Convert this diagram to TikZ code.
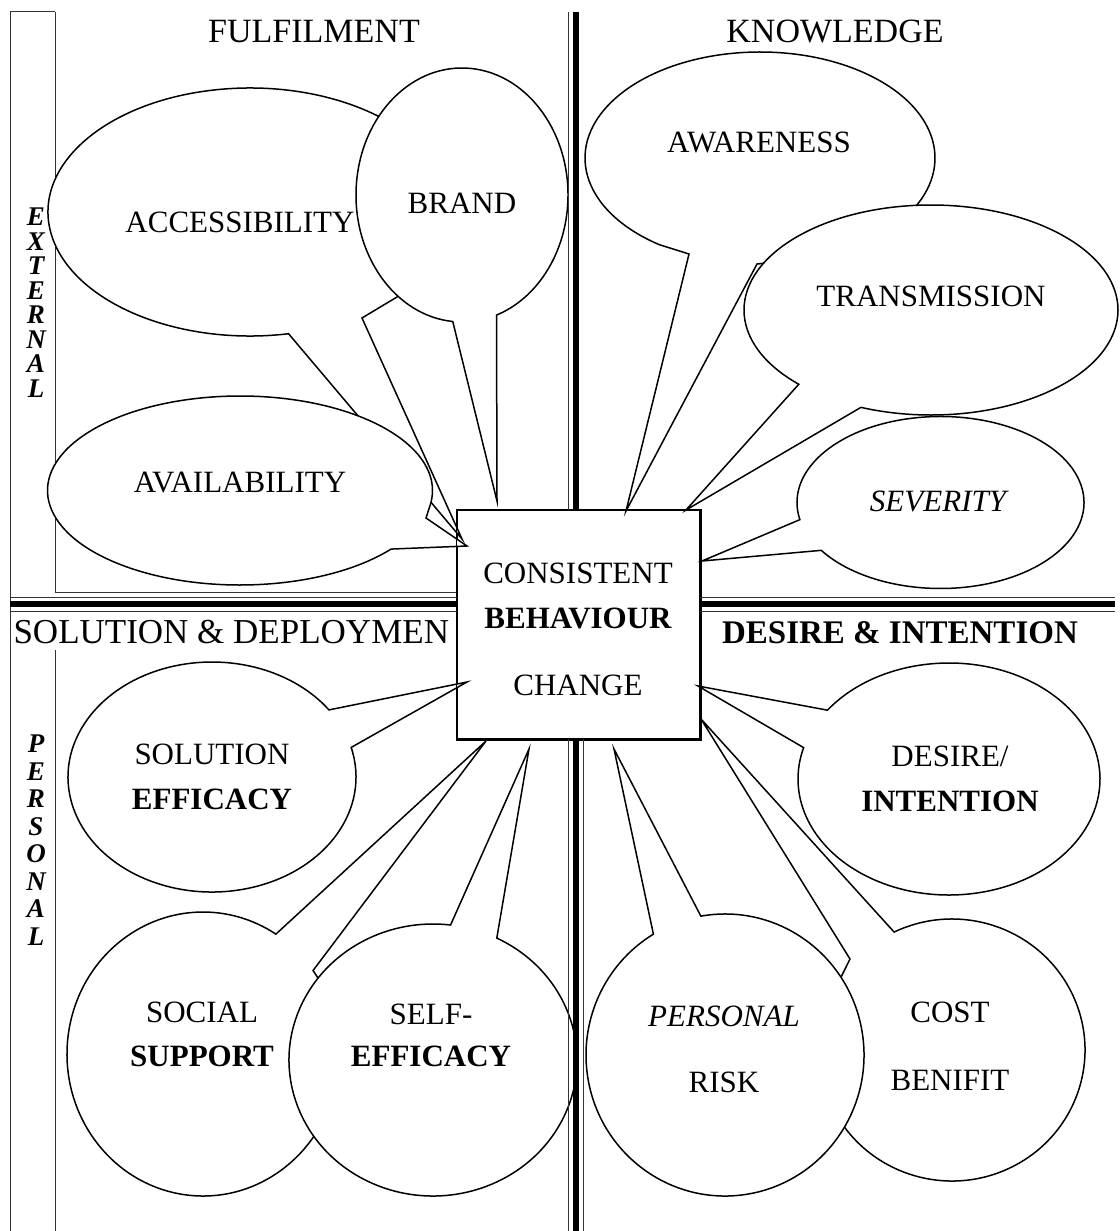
\documentclass[tikz,border=0pt]{standalone}
\usepackage{fontspec}
\setmainfont{Liberation Serif}
\usepackage{xcolor}
\usepackage{tikz}

% oval callout: centre, x radius, y radius, start angle, end angle, pointer
\newcommand{\callout}[6]{%
  \filldraw[bubble] (#1) ++(#4:#2 and #3)
    arc[start angle=#4, end angle=#5, x radius=#2, y radius=#3] #6 -- cycle;}

\begin{document}
\begin{tikzpicture}[x=1pt, y=1pt, yscale=-1,
  bubble/.style={fill=white, draw=black, line width=1.5pt},
  word/.style={font=\fontsize{31}{36}\selectfont},
  bword/.style={font=\fontsize{31}{36}\selectfont\bfseries},
  iword/.style={font=\fontsize{31}{36}\selectfont\itshape},
  head/.style={font=\fontsize{34}{40}\selectfont},
  side/.style={font=\fontsize{27}{27}\selectfont\bfseries\itshape},
  rule/.style={line width=1pt, black!80},
  thickrule/.style={line width=6pt}]
\useasboundingbox (0,0) rectangle (1119,1231);

% frame on the left
\draw[rule] (10,12) -- (55,12);
\draw[rule] (10,12) -- (10,1231);
\draw[rule] (55,12) -- (55,592);
\draw[rule] (55,650) -- (55,1231);
\draw[rule] (55,592) -- (457,592);

% quadrant headings
\node[head] (fulfilment) at (314,32) {FULFILMENT};
\node[head] (knowledge) at (835,32) {KNOWLEDGE};
\node[head, anchor=west, font=\fontsize{35}{40}\selectfont] (soldep) at (10,632) {SOLUTION \& DEPLOYMEN};
\node[head, font=\fontsize{33}{40}\selectfont\bfseries] (desint) at (900,633) {DESIRE \& INTENTION};

% centre box
\node[draw, fill=white, line width=1.5pt, minimum width=243, minimum height=229] (cbc) at (578.5,624.5) {};

% fulfilment
\callout{250,212}{202}{124}{79}{403}{-- (362,318) -- (462,539)}
\callout{240,490.5}{192.5}{94.5}{38.3}{368.8}{-- (426,518) -- (467,546)}
\callout{462,195}{106}{127}{95}{431}{-- (497,501)}
\node[word] (access) at (240,222) {ACCESSIBILITY};
\node[word] (avail) at (240,482) {AVAILABILITY};
\node[word] (brand) at (462,203) {BRAND};

% knowledge
\callout{760,158}{175}{106}{125.2}{430}{-- (757,264) -- (626,511) -- (689,254)}
\callout{931,310}{187}{105}{135}{472}{-- (686,510)}
\callout{940.5,502.5}{143.5}{86}{168.5}{506.2}{-- (702,561)}
\node[word] (aware) at (759,142) {AWARENESS};
\node[word] (trans) at (931,296) {TRANSMISSION};
\node[iword] (sever) at (938,501) {SEVERITY};

% solution & deployment
\callout{212,777}{144}{115}{-14.9}{324.3}{-- (467,682)}
\callout{203,1054}{136}{142}{-36}{302.4}{-- (486,741)}
\callout{433,1060}{144}{136}{-63.7}{277}{-- (529,749)}
\node[word] (sol) at (212,754) {SOLUTION};
\node[bword] (solef) at (212,799) {EFFICACY};
\node[word] (social) at (202,1012) {SOCIAL};
\node[bword] (support) at (202,1056) {SUPPORT};
\node[word] (self) at (431,1014) {SELF-};
\node[bword] (selfef) at (431,1056) {EFFICACY};

% desire & intention
\callout{949,779}{151}{116}{216.4}{555.7}{-- (698,686)}
\callout{952,1050}{133}{131}{244.2}{560}{-- (850,959) -- (701,719)}
\callout{725,1055}{139}{141}{260}{599}{-- (614,749)}
\node[word] (desire) at (950,756) {DESIRE/};
\node[bword] (intent) at (950,801) {INTENTION};
\node[word] (cost) at (950,1012) {COST};
\node[word] (benifit) at (950,1080) {BENIFIT};
\node[iword] (personal) at (724,1016) {PERSONAL};
\node[word] (risk) at (724,1082) {RISK};

% box outline again over the pointer tips
\draw[line width=1.5pt] (cbc.north west) rectangle (cbc.south east);
\node[word] (consist) at (578,573) {CONSISTENT};
\node[bword] (behav) at (578,618) {BEHAVIOUR};
\node[word] (change) at (578,685) {CHANGE};

% dividers
\draw[rule] (568,12) -- (568,510);
\draw[thickrule] (576,12) -- (576,510);
\draw[rule] (568,739) -- (568,1231);
\draw[thickrule] (576,739) -- (576,1231);
\draw[rule] (583,739) -- (583,1231);
\draw[rule] (10,597) -- (457,597);
\draw[thickrule] (10,604) -- (457,604);
\draw[rule] (10,611) -- (457,611);
\draw[rule] (700,597) -- (1115,597);
\draw[thickrule] (700,604) -- (1115,604);
\draw[rule] (700,611) -- (1115,611);

% side labels
\foreach \l [count=\i] in {E,X,T,E,R,N,A,L}
  \node[side] (ext\i) at (36,{217+24.5*(\i-1)}) {\l};
\foreach \l [count=\i] in {P,E,R,S,O,N,A,L}
  \node[side] (pers\i) at (36,{744+27.5*(\i-1)}) {\l};
\end{tikzpicture}
\end{document}
